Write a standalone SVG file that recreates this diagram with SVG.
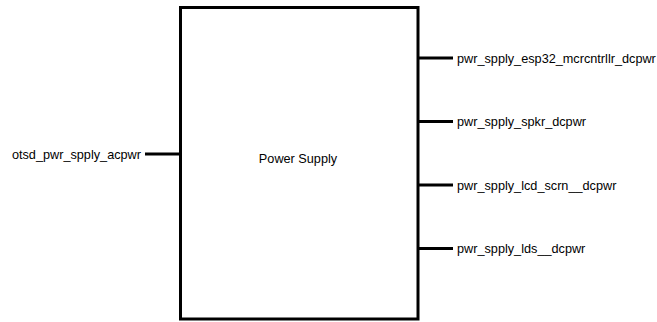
<svg xmlns="http://www.w3.org/2000/svg" width="657" height="322" viewBox="0 0 657 322">
<style>
.box{fill:#fff;stroke:#000;stroke-width:3}
.pin{stroke:#000;stroke-width:3;fill:none}
text{font-family:"Liberation Sans",Arial,sans-serif;font-size:12.7px;fill:#000}
</style>
<rect width="657" height="322" fill="#fff"/>
<g id="power_supply">
<rect class="box" x="180.5" y="7.5" width="237.5" height="311.5"/>
<text x="298" y="163" text-anchor="middle">Power Supply</text>
</g>
<g id="connectors">
<line class="pin" x1="145" y1="154" x2="180" y2="154"/>
<line class="pin" x1="418" y1="58" x2="453" y2="58"/>
<line class="pin" x1="418" y1="121.5" x2="453" y2="121.5"/>
<line class="pin" x1="418" y1="185" x2="453" y2="185"/>
<line class="pin" x1="418" y1="248.5" x2="453" y2="248.5"/>
</g>
<g id="port_acpwr"><text x="141" y="158.5" text-anchor="end">otsd_pwr_spply_acpwr</text></g>
<g id="port_esp32"><text x="457" y="62.5">pwr_spply_esp32_mcrcntrllr_dcpwr</text></g>
<g id="port_spkr"><text x="457" y="126">pwr_spply_spkr_dcpwr</text></g>
<g id="port_lcd"><text x="457" y="189.5">pwr_spply_lcd_scrn__dcpwr</text></g>
<g id="port_lds"><text x="457" y="253">pwr_spply_lds__dcpwr</text></g>
</svg>
